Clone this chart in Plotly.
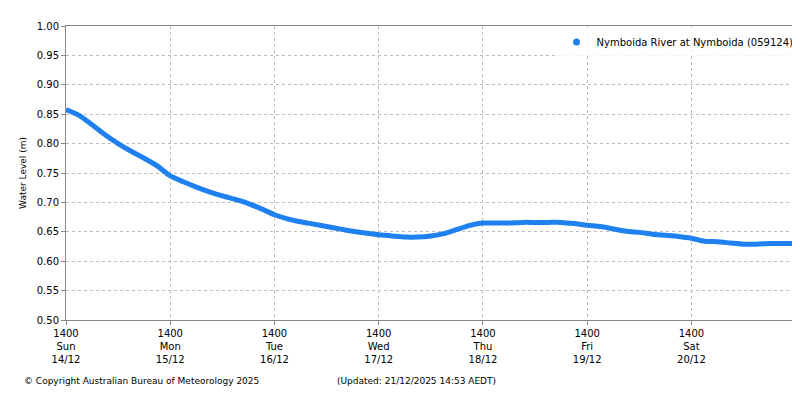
import plotly.graph_objects as go
import pandas as pd

times = pd.date_range("2025-12-14 14:00", "2025-12-21 14:00", freq="3h")
levels = [0.858, 0.848, 0.832, 0.815, 0.800, 0.787, 0.775, 0.762,
          0.745, 0.735, 0.726, 0.718, 0.711, 0.705, 0.698, 0.689,
          0.679, 0.672, 0.667, 0.663, 0.659, 0.655, 0.651, 0.648,
          0.645, 0.643, 0.641, 0.641, 0.643, 0.647, 0.654, 0.661,
          0.665, 0.665, 0.665, 0.666, 0.666, 0.666, 0.666, 0.664,
          0.661, 0.659, 0.655, 0.651, 0.649, 0.646, 0.644, 0.642,
          0.639, 0.634, 0.633, 0.631, 0.629, 0.629, 0.630, 0.630,
          0.630]
end_time = "2025-12-21 15:00"
series_name = "Nymboida River at Nymboida (059124)"

tick_vals = pd.date_range("2025-12-14 14:00", periods=7, freq="1D")
tick_text = ["1400<br>Sun<br>14/12", "1400<br>Mon<br>15/12", "1400<br>Tue<br>16/12",
             "1400<br>Wed<br>17/12", "1400<br>Thu<br>18/12", "1400<br>Fri<br>19/12",
             "1400<br>Sat<br>20/12"]

blue = "#1f80f0"
fig = go.Figure()
fig.add_trace(go.Scatter(x=times, y=levels, mode="lines", showlegend=False,
                         line=dict(color=blue, width=5, shape="spline", smoothing=0.6)))
# legend entry with a dot marker
fig.add_trace(go.Scatter(x=[None], y=[None], mode="markers", name=series_name,
                         marker=dict(color=blue, size=7)))

fig.update_layout(
    width=800, height=400, margin=dict(l=58, r=8, t=18, b=88, autoexpand=False),
    plot_bgcolor="white", paper_bgcolor="white",
    font=dict(family="DejaVu Sans", size=10, color="black"),
    legend=dict(x=0.998, y=0.995, xanchor="right", yanchor="top",
                bgcolor="rgba(255,255,255,0.8)", font=dict(size=10)),
)
fig.update_xaxes(range=[times[0], end_time], tickvals=tick_vals, ticktext=tick_text,
                 showgrid=True, gridcolor="#bbbbbb", griddash="dot", automargin=False,
                 showline=True, linecolor="#888888", mirror=True, ticks="outside",
                 ticklen=4, tickcolor="#888888")
fig.update_yaxes(range=[0.5, 1.0], dtick=0.05, tickformat=".2f", automargin=False,
                 title=dict(text="Water Level (m)", font=dict(size=9), standoff=8),
                 showgrid=True, gridcolor="#bbbbbb", griddash="dot",
                 showline=True, linecolor="#888888", mirror=True, ticks="outside",
                 ticklen=4, tickcolor="#888888", zeroline=False)

fig.add_annotation(text="© Copyright Australian Bureau of Meteorology 2025", xref="paper", yref="paper",
                   x=-0.06, y=-0.23, xanchor="left", showarrow=False, font=dict(size=9))
fig.add_annotation(text="(Updated: 21/12/2025 14:53 AEDT)", xref="paper", yref="paper",
                   x=0.367, y=-0.23, xanchor="left", showarrow=False, font=dict(size=9))

fig.write_html("out.html")
